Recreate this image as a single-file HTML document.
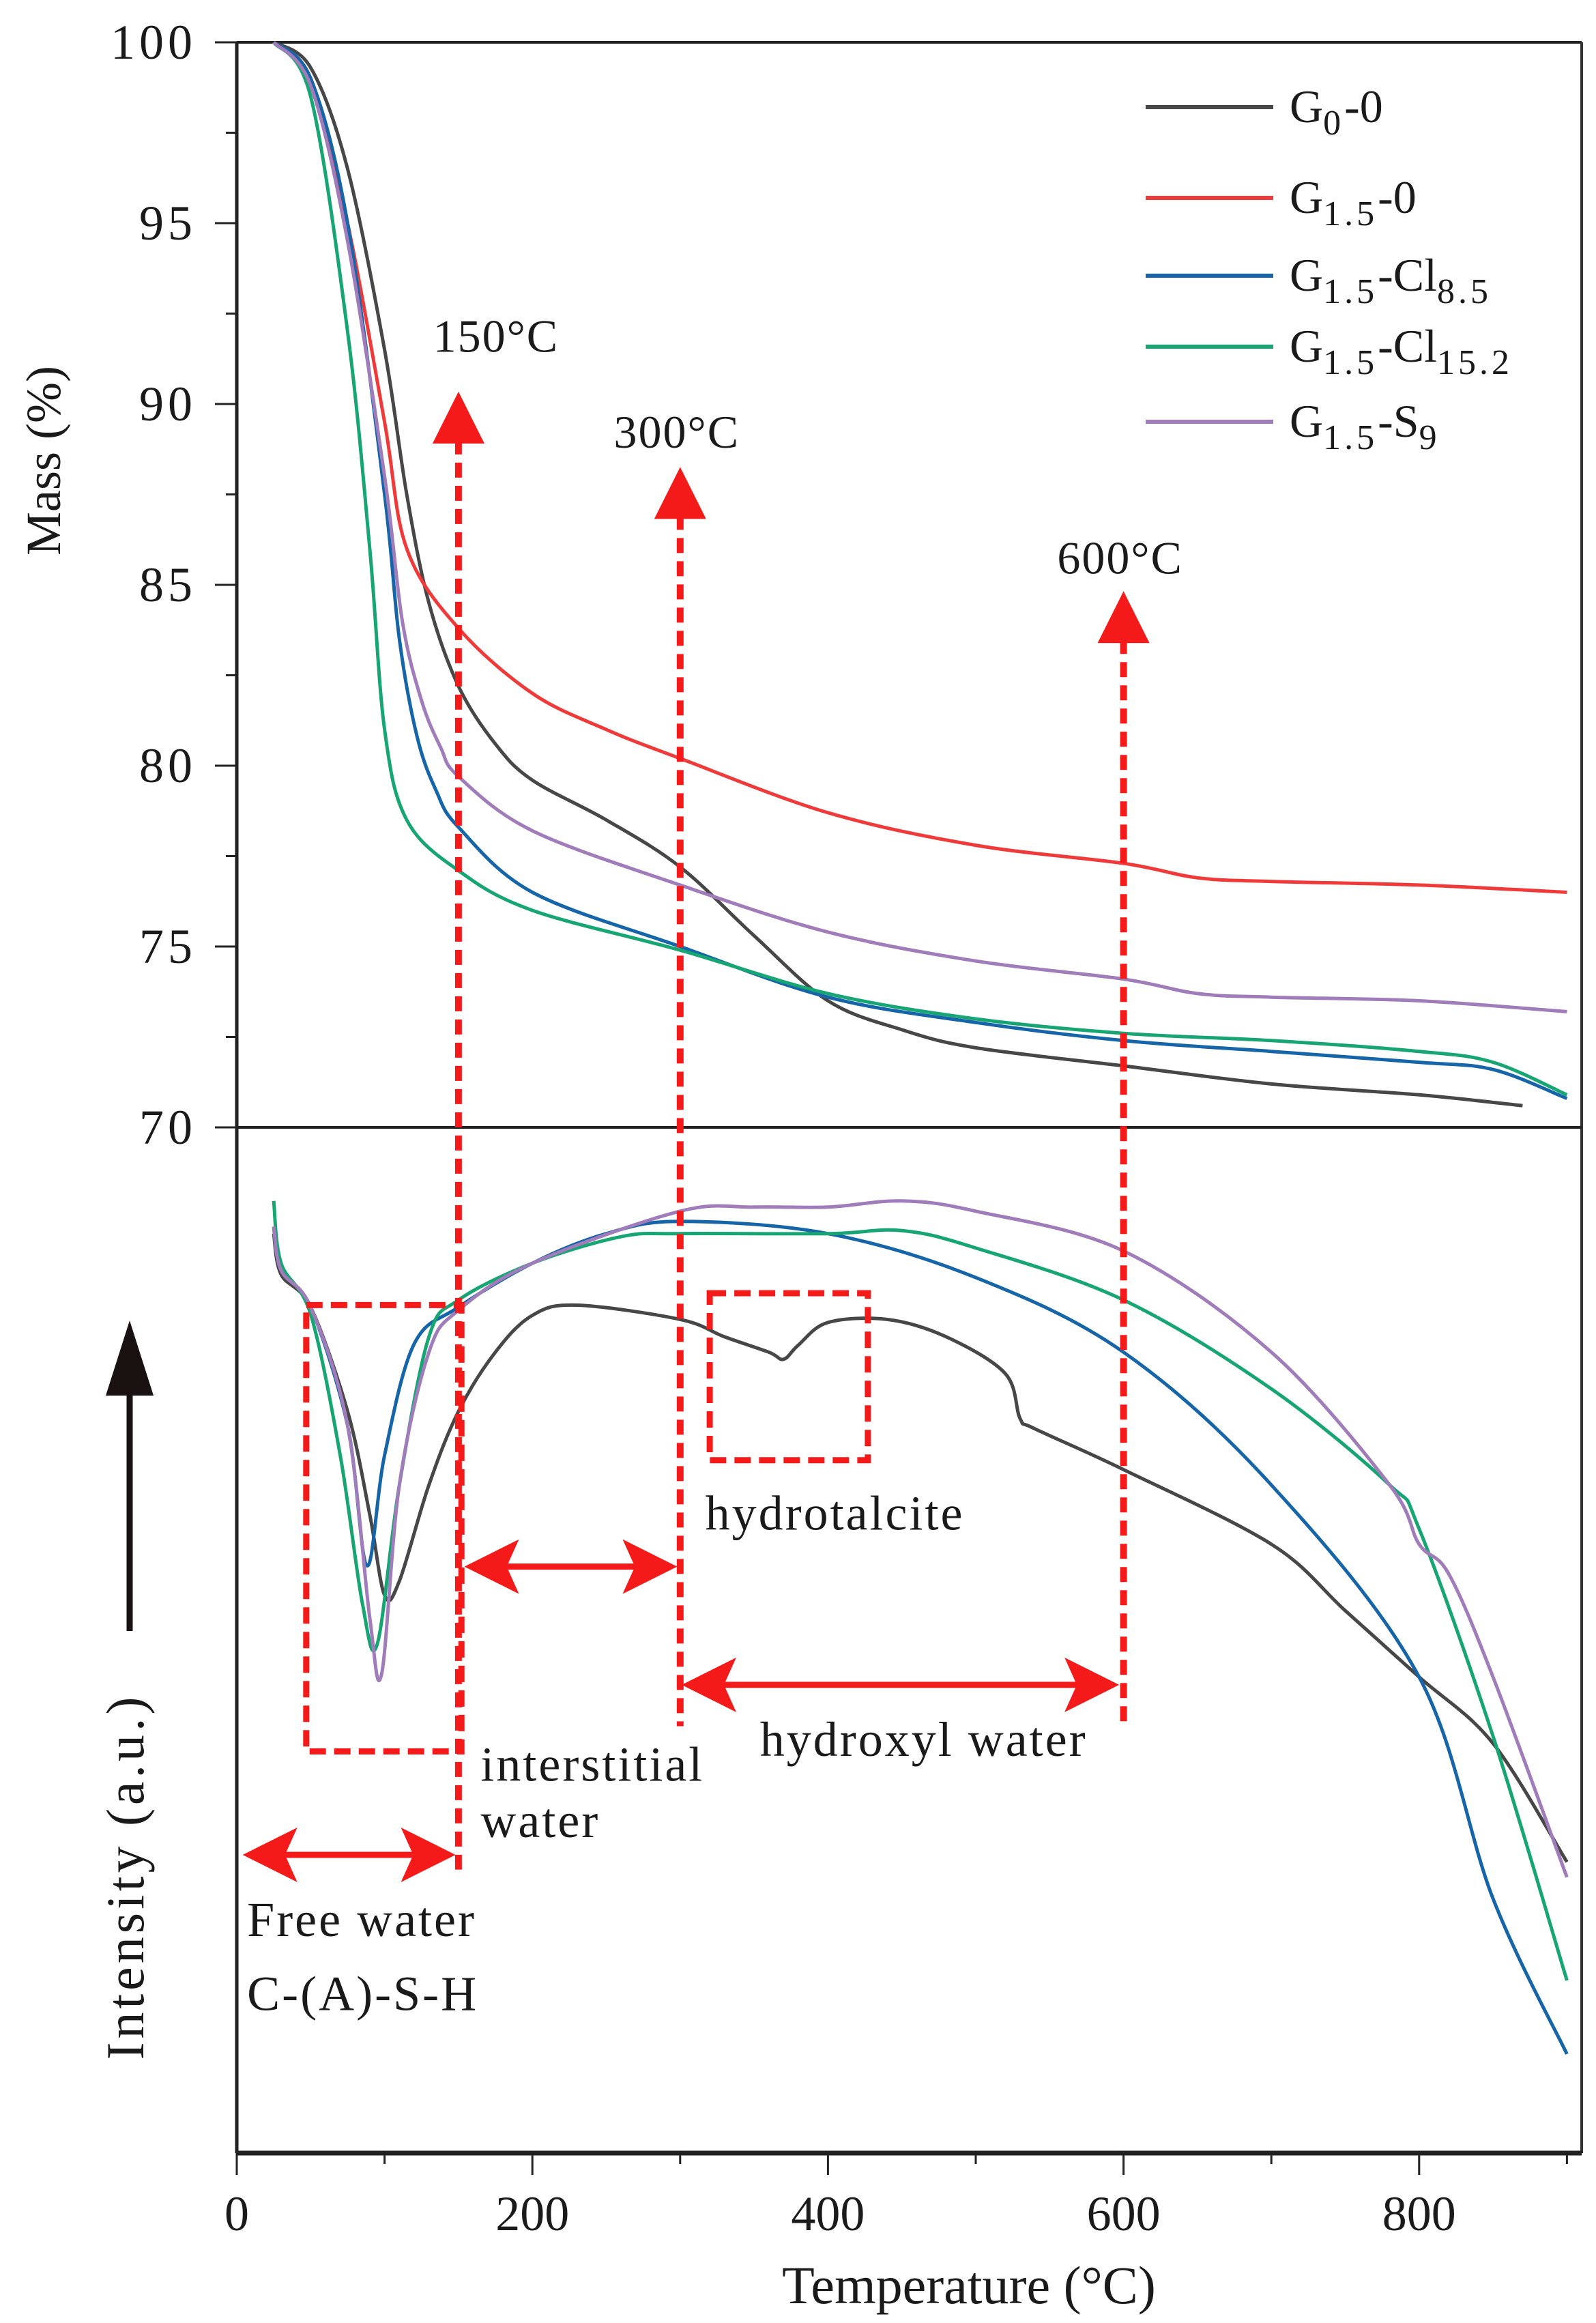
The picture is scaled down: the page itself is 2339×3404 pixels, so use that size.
<!DOCTYPE html>
<html><head><meta charset="utf-8"><style>
html,body{margin:0;padding:0;background:#fff}
svg{display:block}
text{font-family:"Liberation Serif",serif;fill:#1a1a1a}
</style></head><body>
<svg id="chart" width="2339" height="3404" viewBox="0 0 2339 3404" xmlns="http://www.w3.org/2000/svg">
<g id="frame"></g>
<g id="upper"></g>
<g id="lower"></g>
<g id="annot"></g>
<g id="legend"></g>
</svg>
<script>
// ---- data ----
const seriesNames = ["G0-0","G1.5-0","G1.5-Cl8.5","G1.5-Cl15.2","G1.5-S9"];
const seriesColors = ["#474747","#f03a3a","#1565a8","#17a673","#a07cba"];
const massBlackT = [25,50,75,100,115,130,150,175,200,250,300,350,400,450,500,600,700,800,870];
const massBlackV = [100,99.3,96.5,91.5,87.5,84.5,82.2,80.6,79.6,78.5,77.2,75.3,73.5,72.7,72.2,71.7,71.2,70.9,70.6];
const massRedT = [25,50,75,100,115,150,200,250,300,400,500,600,650,700,800,900];
const massRedV = [100,99,95,89.5,86,83.8,82,81,80.2,78.7,77.8,77.3,76.9,76.8,76.7,76.5];
const massBlueT = [25,50,75,100,110,122,135,150,200,300,400,500,600,700,800,850,900];
const massBlueV = [100,99,95,87.5,83.5,80.8,79.3,78.3,76.5,75,73.6,72.9,72.4,72.1,71.8,71.6,70.8];
const massGreenT = [25,50,75,90,100,115,150,200,300,400,500,600,700,800,850,900];
const massGreenV = [100,98.5,92,86,81,78.5,77.1,76,74.9,73.7,73,72.6,72.4,72.1,71.8,70.9];
const massPurpleT = [25,50,75,100,112,125,138,150,200,300,400,500,600,650,700,800,900];
const massPurpleV = [100,98.8,94.5,88,84,81.8,80.5,79.7,78.2,76.7,75.4,74.6,74.1,73.7,73.6,73.5,73.2];

const dtgBlackT = [25,30,50,75,90,100,110,130,150,175,200,230,300,330,360,370,380,400,440,480,520,530,540,600,700,750,800,850,900];
const dtgBlackV = [90,86,82.8,72.6,62.5,54.6,56,65.4,72.6,78.4,82,83,81.6,79.9,78.4,77.7,79.1,81.3,81.6,79.9,76.3,71.9,70.9,66.9,59.6,53.1,46.6,40.1,28.5];
const dtgBlueT = [25,30,50,75,88,100,120,150,200,250,300,400,500,600,700,800,850,900];
const dtgBlueV = [90.6,86.4,82.8,71.2,57.5,68.3,79.2,82.8,87.1,90,91.2,90,85.7,78.4,65.4,46.6,24.9,9.7];
const dtgGreenT = [25,30,50,70,85,95,110,130,150,200,260,300,400,450,500,600,700,780,800,850,900];
const dtgGreenV = [93.2,87.1,82.1,68.3,53.8,49.8,65.4,79.9,83.5,87.1,89.7,90,90,90.3,88.6,83.5,74.8,65.4,61.1,40.8,16.9];
const dtgPurpleT = [25,30,50,75,90,98,110,130,150,200,300,350,400,450,500,600,700,780,800,820,850,900];
const dtgPurpleV = [90.7,86.4,82.8,71.2,52.4,46.9,65.4,78.4,82.5,87.1,92.2,92.6,92.6,93.2,92.2,88.3,78.4,65.4,59.6,56.7,46.6,27];

const massTicks = [100,95,90,85,80,75,70];
const tempTicks = [0,200,400,600,800];
const markerTemps = [150,300,600];
const markerLabels = ["150°C","300°C","600°C"];

// ---- scales ----
const X0=347, XS=2.166, YT=62, MS=53, YB=3155, IS=14.97, XR=2318;
const X = t => X0 + t*XS;
const Ym = m => YT + (100-m)*MS;
const Yi = v => YB - v*IS;
const K = 2.1657;
const NS="http://www.w3.org/2000/svg";
function mk(tag, parent, attrs){const e=document.createElementNS(NS,tag);for(const k in attrs)e.setAttribute(k,attrs[k]);parent.appendChild(e);return e;}
function smooth(pts){let d="M"+pts[0][0].toFixed(1)+","+pts[0][1].toFixed(1);
 for(let i=0;i<pts.length-1;i++){const p0=pts[i-1]||pts[i],p1=pts[i],p2=pts[i+1],p3=pts[i+2]||p2;
  const c1=[p1[0]+(p2[0]-p0[0])/6,p1[1]+(p2[1]-p0[1])/6],c2=[p2[0]-(p3[0]-p1[0])/6,p2[1]-(p3[1]-p1[1])/6];
  d+=` C${c1[0].toFixed(1)},${c1[1].toFixed(1)} ${c2[0].toFixed(1)},${c2[1].toFixed(1)} ${p2[0].toFixed(1)},${p2[1].toFixed(1)}`;}
 return d;}

const frame=document.getElementById('frame');
let e;
e=mk('line',frame,{x1:X0,y1:YT,x2:X0,y2:YB,stroke:'#222','stroke-width':5});


e=mk('line',frame,{x1:X0,y1:YT,x2:XR,y2:YT,stroke:'#222','stroke-width':4});


e=mk('line',frame,{x1:XR,y1:YT,x2:XR,y2:YB,stroke:'#333','stroke-width':4});


e=mk('line',frame,{x1:X0,y1:Ym(70),x2:XR,y2:Ym(70),stroke:'#222','stroke-width':4});


e=mk('line',frame,{x1:X0,y1:YB,x2:XR,y2:YB,stroke:'#222','stroke-width':7});


for(let m=70;m<=100;m+=2.5){const maj=(m%5===0);
 e=mk('line',frame,{x1:X0-(maj?32:16),y1:Ym(m),x2:X0,y2:Ym(m),stroke:'#222','stroke-width':3});
 
 }
massTicks.forEach(m=>{e=mk('text',frame,{x:288,y:Ym(m)+24,'font-size':72,'text-anchor':'end','letter-spacing':6});e.textContent=m;
 
 });
for(let t=0;t<=900;t+=100){const maj=(t%200===0);
 e=mk('line',frame,{x1:X(t),y1:YB,x2:X(t),y2:YB+(maj?32:16),stroke:'#222','stroke-width':3});
 
 }
tempTicks.forEach(t=>{e=mk('text',frame,{x:X(t),y:3268,'font-size':72,'text-anchor':'middle'});e.textContent=t;
 
 });
e=mk('text',frame,{x:1420,y:3375,'font-size':78,'text-anchor':'middle'});e.textContent='Temperature (°C)';


e=mk('text',frame,{x:0,y:0,'font-size':72,'text-anchor':'middle',transform:'translate(88,675) rotate(-90)'});e.textContent='Mass (%)';


e=mk('text',frame,{x:0,y:0,'font-size':78,'text-anchor':'middle','letter-spacing':5,transform:'translate(210,2750) rotate(-90)'});e.textContent='Intensity (a.u.)';


e=mk('line',frame,{x1:190,y1:2390,x2:190,y2:2040,stroke:'#1a1210','stroke-width':9});


e=mk('polygon',frame,{points:'190,1935 155,2045 225,2045',fill:'#1a1210'});



const upper=document.getElementById('upper'), lower=document.getElementById('lower');
const massT=[massBlackT,massRedT,massBlueT,massGreenT,massPurpleT];
const massV=[massBlackV,massRedV,massBlueV,massGreenV,massPurpleV];
massT.forEach((ts,i)=>{const pts=ts.map((t,j)=>[X(t),Ym(massV[i][j])]);
 e=mk('path',upper,{d:smooth(pts),fill:'none',stroke:seriesColors[i],'stroke-width':5,'stroke-linejoin':'round'});
 
 });
const dtgT=[dtgBlackT,dtgBlueT,dtgGreenT,dtgPurpleT];
const dtgV=[dtgBlackV,dtgBlueV,dtgGreenV,dtgPurpleV];
const dtgC=[0,2,3,4];
dtgT.forEach((ts,i)=>{const pts=ts.map((t,j)=>[X(t),Yi(dtgV[i][j])]);
 e=mk('path',lower,{d:smooth(pts),fill:'none',stroke:seriesColors[dtgC[i]],'stroke-width':5,'stroke-linejoin':'round'});
 
 });

const an=document.getElementById('annot');
const RED='#f51a1a';
const tips=[265,316,400], ends=[1265,1168,1168], labOff=[55,-5,-5], labY=[238,303,388];
markerTemps.forEach((t,i)=>{
 e=mk('line',an,{x1:X(t),y1:tips[i]*K+70,x2:X(t),y2:ends[i]*K,stroke:RED,'stroke-width':10,'stroke-dasharray':'22,12'});
 
 
 e=mk('polygon',an,{points:`${X(t)},${tips[i]*K} ${X(t)-38},${tips[i]*K+76} ${X(t)+38},${tips[i]*K+76}`,fill:RED});
 
 
 e=mk('text',an,{x:X(t)+labOff[i],y:labY[i]*K,'font-size':68,'text-anchor':'middle','letter-spacing':2});e.textContent=markerLabels[i];
 
 });
function rect(x1,y1,x2,y2,name){e=mk('rect',an,{x:x1,y:y1,width:x2-x1,height:y2-y1,fill:'none',stroke:RED,'stroke-width':9,'stroke-dasharray':'24,12'});
 
 }
rect(X(47),883*K,X(152),1185*K,'free-water-box');
rect(X(320),875*K,X(427),988*K,'hydrotalcite-box');
function harrow(t1,t2,y,name){const a=X(t1),b=X(t2);
 e=mk('line',an,{x1:a+60,y1:y,x2:b-60,y2:y,stroke:RED,'stroke-width':9});
 
 
 e=mk('polygon',an,{points:`${a},${y} ${a+80},${y-40} ${a+62},${y} ${a+80},${y+40}`,fill:RED});
 
 
 e=mk('polygon',an,{points:`${b},${y} ${b-80},${y-40} ${b-62},${y} ${b-80},${y+40}`,fill:RED});
 
 }
harrow(4,148,1255*K,'free-water-arrow');
harrow(154,298,1060*K,'interstitial-arrow');
harrow(301,597,1140*K,'hydroxyl-arrow');
const labels=[["hydrotalcite",X(317),1035],["interstitial",X(165),1205],["water",X(165),1243],["hydroxyl water",X(354),1188],["Free water",X(7),1310],["C-(A)-S-H",X(7),1360]];
labels.forEach(l=>{e=mk('text',an,{x:l[1],y:l[2]*K,'font-size':72,'letter-spacing':3});e.textContent=l[0];
 
 });

const lg=document.getElementById('legend');
const legY=[157,290,404,508,618];
const legMain=["G","G","G","G","G"], legSub1=["0","1.5","1.5","1.5","1.5"], legMid=["-0","-0","-Cl","-Cl","-S"], legSub2=["","","8.5","15.2","9"];
legY.forEach((y,i)=>{
 e=mk('line',lg,{x1:1679,y1:y,x2:1866,y2:y,stroke:seriesColors[i],'stroke-width':6});
 
 
 const t=mk('text',lg,{x:1890,y:y+22,'font-size':68});
 
 
 t.appendChild(document.createTextNode(legMain[i]));
 const s1=mk('tspan',t,{dy:18,'font-size':52,'letter-spacing':5});s1.textContent=legSub1[i];
 const s2=mk('tspan',t,{dy:-18});s2.textContent=legMid[i];
 if(legSub2[i]){const s3=mk('tspan',t,{dy:18,'font-size':52,'letter-spacing':5});s3.textContent=legSub2[i];}
});
</script>
</body></html>
